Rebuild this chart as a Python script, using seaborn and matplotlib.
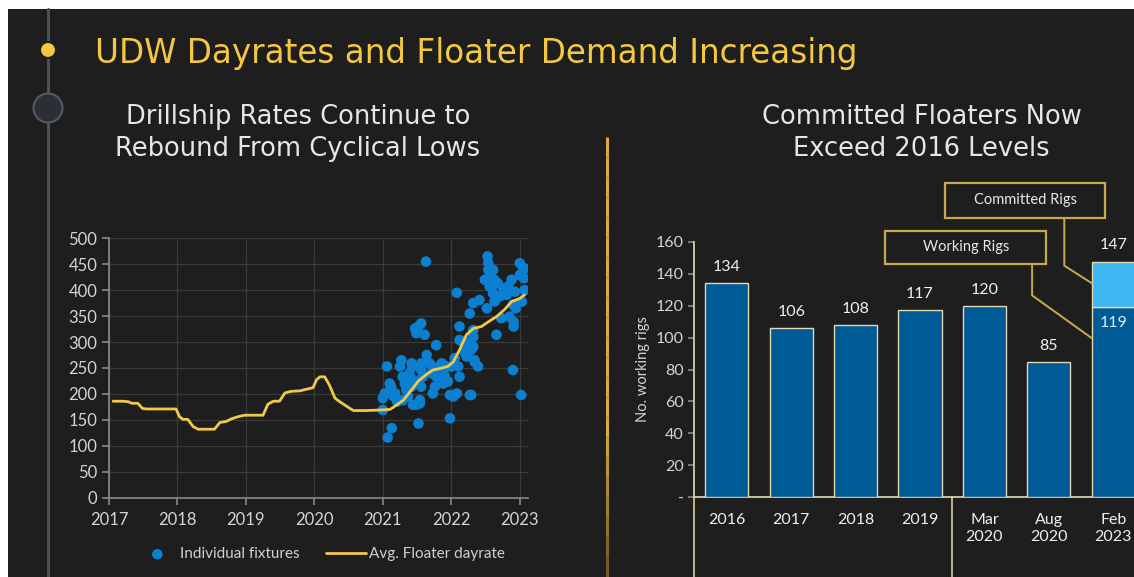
import matplotlib
matplotlib.use("Agg")
import matplotlib.pyplot as plt
import matplotlib.patches as mpatches
import matplotlib.lines as mlines
import matplotlib.transforms as mtransforms
import seaborn as sns
import pandas as pd
import numpy as np

# ---------------- data ----------------
line_year = [2017.06, 2017.2, 2017.28, 2017.33, 2017.42, 2017.49, 2017.55, 2017.98,
             2018.03, 2018.08, 2018.15, 2018.23, 2018.30, 2018.54, 2018.62, 2018.71,
             2018.79, 2018.88, 2018.98, 2019.25, 2019.32, 2019.40, 2019.49, 2019.57,
             2019.66, 2019.79, 2019.88, 2019.98, 2020.03, 2020.08, 2020.15, 2020.22,
             2020.30, 2020.37, 2020.44, 2020.52, 2020.57, 2020.76, 2020.96, 2021.10,
             2021.15, 2021.30, 2021.42, 2021.52, 2021.64, 2021.73, 2021.83, 2021.95,
             2022.03, 2022.12, 2022.22, 2022.32, 2022.44, 2022.54, 2022.66, 2022.78,
             2022.88, 2023.0, 2023.07]
line_rate = [186, 186, 185, 182, 182, 172, 171, 171,
             156, 151, 151, 137, 132, 132, 145, 147,
             152, 156, 159, 159, 180, 186, 186, 202,
             205, 206, 209, 212, 227, 233, 233, 217,
             192, 185, 179, 172, 168, 168, 169, 170,
             174, 188, 208, 225, 238, 246, 249, 253,
             262, 285, 314, 326, 330, 339, 349, 363,
             378, 384, 391]

fix_year = [2021.0, 2021.0, 2021.03, 2021.06, 2021.07, 2021.13, 2021.1, 2021.12, 2021.15, 2021.18,
            2021.21, 2021.25, 2021.27, 2021.29, 2021.32, 2021.34, 2021.37, 2021.29, 2021.39, 2021.42,
            2021.44, 2021.44, 2021.49, 2021.54, 2021.42, 2021.43, 2021.47, 2021.49, 2021.52, 2021.56,
            2021.52, 2021.54, 2021.56, 2021.56, 2021.58, 2021.56, 2021.61, 2021.63, 2021.64, 2021.68,
            2021.71, 2021.73, 2021.76, 2021.78, 2021.73, 2021.78, 2021.81, 2021.83, 2021.86, 2021.88,
            2021.9, 2021.93, 2021.95, 2021.98, 2021.98, 2022.0, 2022.05, 2022.03, 2022.08, 2022.08,
            2022.1, 2022.12, 2022.12, 2022.17, 2022.12, 2022.19, 2022.22, 2022.24, 2022.27, 2022.29,
            2022.27, 2022.29, 2022.27, 2022.32, 2022.32, 2022.32, 2022.32, 2022.34, 2022.34, 2022.39,
            2022.41, 2022.49, 2022.52, 2022.53, 2022.54, 2022.54, 2022.56, 2022.54, 2022.59, 2022.61,
            2022.61, 2022.63, 2022.63, 2022.66, 2022.64, 2022.68, 2022.71, 2022.73, 2022.76, 2022.81,
            2022.83, 2022.85, 2022.88, 2022.9, 2022.91, 2022.91, 2022.9, 2022.93, 2022.94, 2023.0,
            2023.0, 2023.02, 2023.03, 2023.05, 2023.06, 2023.07, 2023.07]
fix_rate = [169, 192, 201, 253, 116, 134, 220, 214, 196, 201,
            185, 253, 265, 233, 220, 208, 195, 188, 240, 214,
            227, 179, 179, 182, 259, 253, 326, 317, 330, 336,
            143, 188, 246, 259, 233, 214, 314, 455, 275, 259,
            240, 201, 214, 294, 253, 233, 249, 243, 259, 220,
            236, 253, 224, 153, 198, 253, 269, 195, 201, 395,
            253, 233, 304, 301, 330, 281, 272, 288, 301, 198,
            198, 285, 355, 375, 323, 310, 291, 265, 262, 253,
            381, 420, 365, 465, 452, 439, 407, 423, 407, 394,
            439, 378, 420, 314, 381, 413, 388, 346, 404, 391,
            407, 349, 420, 372, 339, 330, 246, 397, 365, 452,
            429, 198, 378, 439, 423, 400, 442]

rig_periods = ["2016", "2017", "2018", "2019", "Mar\n2020", "Aug\n2020", "Feb\n2023"]
working_rigs = [134, 106, 108, 117, 120, 85, 119]
committed_rigs = [None, None, None, None, None, None, 147]

left_yticks = [0, 50, 100, 150, 200, 250, 300, 350, 400, 450, 500]
left_xticks = [2017, 2018, 2019, 2020, 2021, 2022, 2023]
right_yticks = [0, 20, 40, 60, 80, 100, 120, 140, 160]
right_yticklabels = ["-", "20", "40", "60", "80", "100", "120", "140", "160"]

# ---------------- style ----------------
BG = "#1e1e1e"
GOLD = "#f5c842"
TXT = "#e6e6e6"
TICK = "#d4d4d4"
DOT = "#0b80d0"
BAR = "#005a96"
BAR_LIGHT = "#3db6f2"
BAR_EDGE = "#e4dab0"
BOX_EDGE = "#c9a94f"
FONT = "Lato"
TFONT = "DejaVu Sans"

sns.set_theme(style="dark")
plt.rcParams["font.family"] = [FONT, "DejaVu Sans"]

W, H = 1134, 577
fig = plt.figure(figsize=(W / 100, H / 100), dpi=100)
fig.patch.set_facecolor("white")

def fx(px):
    return px / W

def fy(py):
    return 1 - py / H

# dark background panel (white margins top/left)
fig.patches.append(mpatches.Rectangle((fx(8), 0), 1 - fx(8), fy(9), transform=fig.transFigure,
                                      facecolor=BG, edgecolor="none", zorder=-10))
# timeline
fig.lines.append(mlines.Line2D([fx(48), fx(48)], [fy(9), 0], transform=fig.transFigure,
                               color="#4b505a", lw=2.2, zorder=-5))
fig.patches.append(mpatches.Ellipse((fx(48), fy(50)), 16 / W, 16 / H, transform=fig.transFigure,
                                    facecolor=GOLD, edgecolor="#1e1e1e", lw=1.5, zorder=-4))
fig.patches.append(mpatches.Ellipse((fx(48), fy(108)), 29 / W, 29 / H, transform=fig.transFigure,
                                    facecolor="#2b2e35", edgecolor="#555a63", lw=1.5, zorder=-4))
# golden separator (fading toward the bottom)
sep_y = np.linspace(137, 577, 23)
for k in range(len(sep_y) - 1):
    a = 1.0 if sep_y[k] < 420 else max(0.35, 1.0 - (sep_y[k] - 420) / 240)
    fig.lines.append(mlines.Line2D([fx(607), fx(607)], [fy(sep_y[k]), fy(sep_y[k + 1])],
                                   transform=fig.transFigure, color="#d6ac3c", alpha=a,
                                   lw=2.2, zorder=-5, solid_capstyle="butt"))

# titles
fig.text(fx(95), fy(54), "UDW Dayrates and Floater Demand Increasing", color=GOLD,
         fontsize=23.5, family=TFONT, va="center", ha="left")
fig.text(fx(298), fy(133.5), "Drillship Rates Continue to\nRebound From Cyclical Lows", color=TXT,
         fontsize=18.5, family=TFONT, va="center", ha="center", linespacing=1.3)
fig.text(fx(921.5), fy(133.5), "Committed Floaters Now\nExceed 2016 Levels", color=TXT,
         fontsize=18.5, family=TFONT, va="center", ha="center", linespacing=1.3)

# ---------------- left chart ----------------
axL = fig.add_axes([fx(109), fy(497.7), fx(528) - fx(109), fy(238.3) - fy(497.7)])
axL.set_facecolor("none")
line_df = pd.DataFrame({"year": line_year, "rate": line_rate})
fix_df = pd.DataFrame({"year": fix_year, "rate": fix_rate})
sns.scatterplot(data=fix_df, x="year", y="rate", ax=axL, color=DOT, s=58, edgecolor="none",
                label="Individual fixtures", zorder=3)
sns.lineplot(data=line_df, x="year", y="rate", ax=axL, color="#f2c84b", lw=2.0,
             label="Avg. Floater dayrate", zorder=4)
axL.set_xlim(2017, 2023.12)
axL.set_ylim(0, 500)
axL.set_xticks(left_xticks)
axL.set_yticks(left_yticks)
axL.set_xlabel("")
axL.set_ylabel("")
axL.grid(True, color="#3a3a3a", lw=0.9)
for s in ["top", "right"]:
    axL.spines[s].set_visible(False)
for s in ["left", "bottom"]:
    axL.spines[s].set_visible(True)
    axL.spines[s].set_color("#8a8a8a")
    axL.spines[s].set_linewidth(1.2)
axL.tick_params(axis="both", colors="#8a8a8a", labelcolor=TICK, labelsize=12, length=5, width=1.2,
                bottom=True, left=True)
axL.tick_params(axis="x", pad=5)
leg = axL.legend(loc="center", bbox_to_anchor=(0.506, -0.218), ncol=2, frameon=False,
                 fontsize=11, handlelength=2.6, handletextpad=0.2, columnspacing=1.7,
                 labelcolor="#d0d0d0")

# ---------------- right chart ----------------
x0px = 694
unit = 64.4
xmin = -0.51
xmax = 6.62
axR = fig.add_axes([fx(x0px), fy(497.3), (xmax - xmin) * unit / W, fy(241.7) - fy(497.3)])
axR.set_facecolor("none")
rig_df = pd.DataFrame({"period": rig_periods, "working": working_rigs})
sns.barplot(data=rig_df, x="period", y="working", ax=axR, color=BAR, saturation=1,
            width=0.67, edgecolor=BAR_EDGE, linewidth=1.0, zorder=3)
for i, c in enumerate(committed_rigs):
    if c is not None:
        axR.bar(i, c - working_rigs[i], bottom=working_rigs[i], width=0.67, color=BAR_LIGHT,
                edgecolor=BAR_EDGE, linewidth=1.0, zorder=3)
axR.set_xlim(xmin, xmax)
axR.set_ylim(0, 160)
axR.set_yticks(right_yticks)
axR.set_yticklabels(right_yticklabels)
axR.set_xlabel("")
axR.set_ylabel("No. working rigs", color=TICK, fontsize=10.5, labelpad=4)
axR.grid(False)
for s in ["top", "right"]:
    axR.spines[s].set_visible(False)
for s in ["left", "bottom"]:
    axR.spines[s].set_visible(True)
    axR.spines[s].set_color("#d8cfae")
    axR.spines[s].set_linewidth(1.3)
axR.tick_params(axis="y", colors="#8a8a8a", labelcolor=TICK, labelsize=11.5, length=4, width=1.2, left=True)
axR.tick_params(axis="x", labelcolor="#f0f0f0", labelsize=11.5, length=0, pad=11)
for lab in axR.get_xticklabels():
    lab.set_linespacing(1.35)
    lab.set_verticalalignment("top")

# value labels
for i, v in enumerate(working_rigs):
    if committed_rigs[i] is None:
        axR.annotate(str(v), (i, v), xytext=(0, 16), textcoords="offset pixels", ha="center",
                     va="center", color="#f0f0f0", fontsize=11.5)
    else:
        axR.annotate(str(v), (i, v), xytext=(0, -16), textcoords="offset pixels", ha="center",
                     va="center", color="#d6eeff", fontsize=11.5)
        axR.annotate(str(committed_rigs[i]), (i, committed_rigs[i]), xytext=(0, 17),
                     textcoords="offset pixels", ha="center", va="center", color="#f0f0f0",
                     fontsize=11.5)

# separators below axis
blend = mtransforms.blended_transform_factory(axR.transData, axR.transAxes)
for xs in [xmin, 3.5]:
    axR.plot([xs, xs], [0, -0.4], transform=blend, color="#cdbf8f", lw=1.3, clip_on=False, zorder=2)

# annotation boxes with leader lines
def box(xa, xb, ya, yb, text):
    axR.add_patch(mpatches.Rectangle((xa, yb), xb - xa, ya - yb, facecolor=BG, edgecolor=BOX_EDGE,
                                     lw=1.6, clip_on=False, zorder=5))
    axR.text((xa + xb) / 2, (ya + yb) / 2, text, ha="center", va="center", color="#e8e8e8",
             fontsize=10.5, zorder=6, clip_on=False)

box(2.46, 4.96, 167, 145.8, "Working Rigs")
box(3.39, 5.87, 197, 175, "Committed Rigs")
axR.plot([4.74, 4.74, 5.667], [145.8, 126.4, 99.6], color=BOX_EDGE, lw=1.4, clip_on=False, zorder=4)
axR.plot([5.24, 5.24, 5.667], [175, 145, 134], color=BOX_EDGE, lw=1.4, clip_on=False, zorder=4)

fig.savefig("out.png", dpi=100, facecolor=fig.get_facecolor())
